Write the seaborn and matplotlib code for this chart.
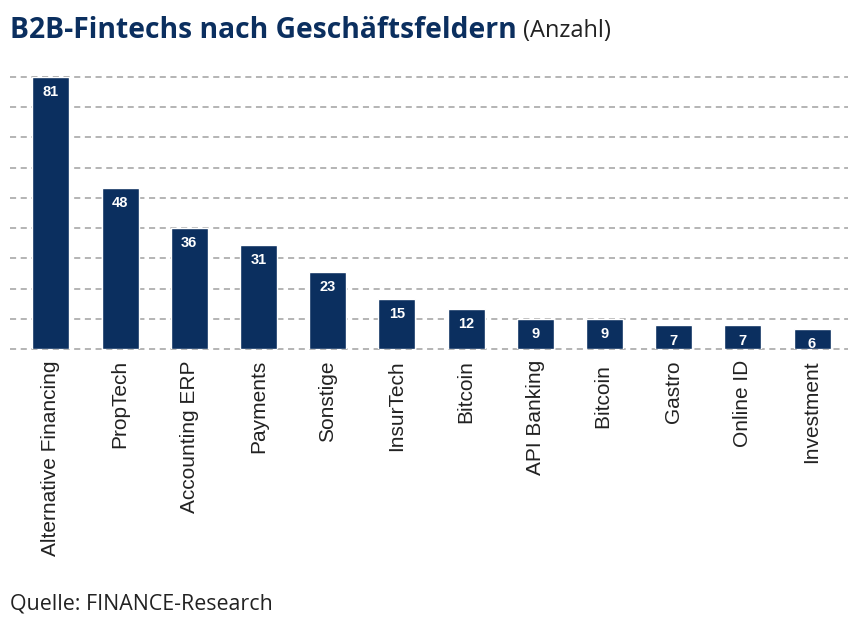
import matplotlib
matplotlib.use("Agg")
import matplotlib.pyplot as plt
import seaborn as sns
import pandas as pd

categories = ["Alternative Financing", "PropTech", "Accounting ERP", "Payments", "Sonstige",
              "InsurTech", "Bitcoin", "API Banking", "Bitcoin ", "Gastro", "Online ID", "Investment"]
values = [81, 48, 36, 31, 23, 15, 12, 9, 9, 7, 7, 6]
title_main = "B2B-Fintechs nach Geschäftsfeldern"
title_sub = "(Anzahl)"
source = "Quelle: FINANCE-Research"

navy = "#0b2f5f"
sns.set_theme(style="white")
plt.rcParams['font.family'] = ['Open Sans', 'DejaVu Sans']

df = pd.DataFrame({"cat": categories, "val": values})
fig = plt.figure(figsize=(8.56, 6.36), dpi=100)
W, H = 856, 636
ax = fig.add_axes([10 / W, (H - 349) / H, 838 / W, 272 / H])
sns.barplot(data=df, x="cat", y="val", color=navy, saturation=1, width=0.535, ax=ax, zorder=3)
ax.set_xlim(-0.59, 11.52)
ax.set_ylim(0, 81)
ax.set_yticks(range(0, 82, 9))
ax.set_yticklabels([])
ax.tick_params(axis="y", length=0)
ax.grid(axis="y", color="#a0a0a0", linestyle=(0, (4, 3)), linewidth=1.1, zorder=0, clip_on=False)
for gl in ax.get_ygridlines():
    gl.set_clip_on(False)
for s in ax.spines.values():
    s.set_visible(False)
ax.set_xlabel("")
ax.set_ylabel("")
ax.set_xticks(range(len(categories)))
ax.set_xticklabels(categories, rotation=90, fontsize=15, color="#222222", family=['Liberation Sans', 'DejaVu Sans'])
ax.tick_params(axis="x", length=0, pad=8)

for i, v in enumerate(values):
    ax.annotate(str(v), (i, v), xytext=(0, -11), textcoords="offset points",
                ha="center", va="center", color="white", fontsize=10.5, fontweight="bold",
                family=['Liberation Sans', 'DejaVu Sans'])

t1 = fig.text(10 / W, 1 - 30 / H, title_main, fontsize=20.3, fontweight="bold", color=navy,
              va="center", ha="left")
fig.canvas.draw()
bb = t1.get_window_extent()
fig.text((bb.x1 + 6) / W, 1 - 31 / H, title_sub, fontsize=17, color="#222222", va="center", ha="left")
fig.text(10 / W, 1 - 604 / H, source, fontsize=15.4, color="#222222", va="center", ha="left")

fig.savefig("out.png", dpi=100)
